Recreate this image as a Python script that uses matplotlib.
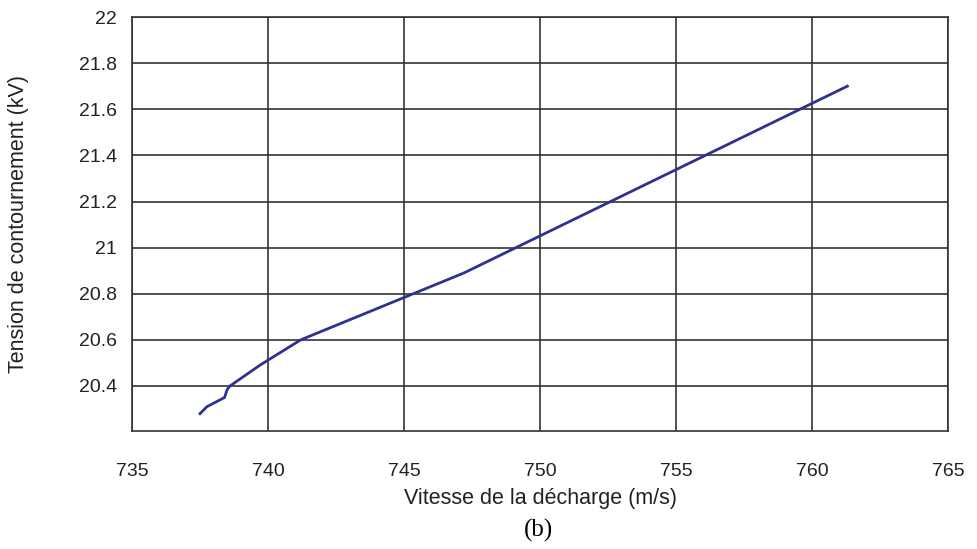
import matplotlib.pyplot as plt

# Donnees
vitesse = [737.5, 737.75, 738.4, 738.5, 738.6, 739.7, 741.2, 747.2, 761.3]
tension = [20.28, 20.31, 20.35, 20.385, 20.40, 20.49, 20.60, 20.89, 21.70]

x_ticks = [735, 740, 745, 750, 755, 760, 765]
y_ticks = [20.4, 20.6, 20.8, 21, 21.2, 21.4, 21.6, 21.8, 22]
y_labels = ['20.4', '20.6', '20.8', '21', '21.2', '21.4', '21.6', '21.8', '22']

plt.rcParams['font.family'] = ['Liberation Sans', 'DejaVu Sans']

fig = plt.figure(figsize=(9.78, 5.49), dpi=100)
ax = fig.add_axes([0.135, 0.215, 0.8343, 0.754])

ax.plot(vitesse, tension, color='#2E3192', linewidth=2.0)

ax.set_xlim(735, 765)
ax.set_ylim(20.205, 22)
ax.set_xticks(x_ticks)
ax.set_yticks(y_ticks)
ax.set_yticklabels(y_labels)
ax.tick_params(length=0, labelsize=14, colors='#222222')
ax.tick_params(axis='x', pad=23)
ax.tick_params(axis='y', pad=11)
ax.grid(True, color='#333333', linewidth=1.2)
for s in ax.spines.values():
    s.set_color('#333333')
    s.set_linewidth(1.2)

ax.set_xlabel('Vitesse de la décharge (m/s)', fontsize=15.5, color='#222222')
ax.xaxis.set_label_coords(0.5, -0.138)
ax.set_ylabel('Tension de contournement (kV)', fontsize=15.5, color='#222222')
ax.yaxis.set_label_coords(-0.126, 0.5)
fig.text(0.551, 0.034, '(b)', fontsize=18, family='Liberation Serif', ha='center', va='center')

fig.savefig('out.png', dpi=100)
